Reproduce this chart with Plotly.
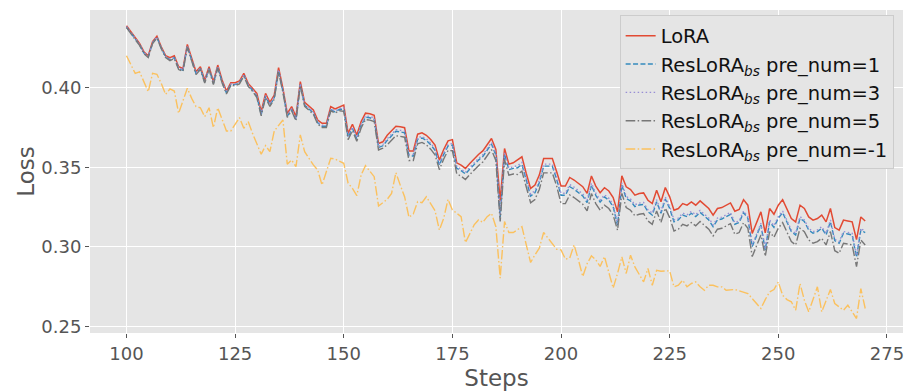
import plotly.graph_objects as go

steps = list(range(100, 271))

lora = [
0.4389,0.4351,0.4310,0.4278,0.4226,0.4201,0.4289,0.4324,0.4257,0.4201,
0.4188,0.4201,0.4132,0.4121,0.4272,0.4184,0.4100,0.4132,0.4048,0.4132,
0.4038,0.4142,0.4048,0.3979,0.4031,0.4031,0.4042,0.4090,0.4027,0.3996,
0.3964,0.3849,0.3964,0.3908,0.3954,0.4126,0.3996,0.3839,0.3881,0.3818,
0.4038,0.3908,0.3881,0.3860,0.3797,0.3776,0.3776,0.3881,0.3866,0.3881,
0.3891,0.3713,0.3770,0.3703,0.3787,0.3840,0.3836,0.3827,0.3649,0.3660,
0.3701,0.3729,0.3758,0.3754,0.3749,0.3603,0.3603,0.3708,0.3716,0.3701,
0.3674,0.3639,0.3545,0.3612,0.3666,0.3674,0.3528,0.3514,0.3493,0.3524,
0.3555,0.3580,0.3603,0.3645,0.3681,0.3612,0.3290,0.3618,0.3520,0.3528,
0.3545,0.3566,0.3461,0.3367,0.3388,0.3451,0.3555,0.3555,0.3555,0.3472,
0.3382,0.3382,0.3436,0.3420,0.3399,0.3378,0.3336,0.3445,0.3382,0.3340,
0.3372,0.3351,0.3310,0.3220,0.3446,0.3377,0.3360,0.3325,0.3335,0.3339,
0.3293,0.3272,0.3356,0.3283,0.3373,0.3314,0.3230,0.3241,0.3272,0.3262,
0.3283,0.3262,0.3289,0.3262,0.3241,0.3199,0.3241,0.3247,0.3262,0.3276,
0.3224,0.3235,0.3297,0.3262,0.3084,0.3147,0.3220,0.3088,0.3241,0.3205,
0.3262,0.3297,0.3241,0.3178,0.3157,0.3262,0.3241,0.3188,0.3168,0.3178,
0.3199,0.3157,0.3241,0.3121,0.3105,0.3168,0.3163,0.3157,0.3046,0.3188,
0.3163]

pre1 = [
0.4381,0.4343,0.4302,0.4270,0.4218,0.4193,0.4281,0.4316,0.4249,0.4193,
0.4176,0.4189,0.4120,0.4109,0.4260,0.4172,0.4088,0.4120,0.4036,0.4120,
0.4026,0.4130,0.4036,0.3967,0.4019,0.4019,0.4030,0.4078,0.4015,0.3984,
0.3946,0.3831,0.3946,0.3890,0.3936,0.4108,0.3978,0.3821,0.3863,0.3800,
0.4020,0.3890,0.3863,0.3842,0.3779,0.3758,0.3758,0.3863,0.3848,0.3863,
0.3866,0.3688,0.3745,0.3678,0.3762,0.3815,0.3811,0.3802,0.3624,0.3635,
0.3669,0.3697,0.3726,0.3722,0.3717,0.3571,0.3571,0.3676,0.3684,0.3669,
0.3642,0.3607,0.3513,0.3580,0.3634,0.3639,0.3493,0.3479,0.3458,0.3489,
0.3520,0.3545,0.3568,0.3610,0.3646,0.3577,0.3185,0.3583,0.3485,0.3493,
0.3497,0.3518,0.3413,0.3319,0.3340,0.3403,0.3507,0.3507,0.3507,0.3424,
0.3324,0.3324,0.3378,0.3362,0.3341,0.3320,0.3278,0.3387,0.3324,0.3282,
0.3314,0.3293,0.3252,0.3136,0.3388,0.3305,0.3288,0.3253,0.3263,0.3267,
0.3221,0.3200,0.3284,0.3211,0.3301,0.3242,0.3158,0.3169,0.3200,0.3190,
0.3211,0.3190,0.3217,0.3190,0.3169,0.3127,0.3169,0.3175,0.3190,0.3204,
0.3142,0.3153,0.3215,0.3180,0.3002,0.3065,0.3138,0.2979,0.3159,0.3123,
0.3180,0.3215,0.3159,0.3096,0.3075,0.3180,0.3159,0.3106,0.3086,0.3096,
0.3117,0.3075,0.3159,0.3039,0.3023,0.3086,0.3081,0.3075,0.2935,0.3106,
0.3089]

pre3 = [
0.4384,0.4346,0.4305,0.4273,0.4221,0.4196,0.4284,0.4319,0.4252,0.4196,
0.4180,0.4193,0.4124,0.4113,0.4264,0.4176,0.4092,0.4124,0.4040,0.4124,
0.4030,0.4134,0.4040,0.3971,0.4023,0.4023,0.4034,0.4082,0.4019,0.3988,
0.3952,0.3837,0.3952,0.3896,0.3942,0.4114,0.3984,0.3827,0.3869,0.3806,
0.4026,0.3896,0.3869,0.3848,0.3785,0.3764,0.3764,0.3869,0.3854,0.3869,
0.3874,0.3696,0.3753,0.3686,0.3770,0.3823,0.3819,0.3810,0.3632,0.3643,
0.3679,0.3707,0.3736,0.3732,0.3727,0.3581,0.3581,0.3686,0.3694,0.3679,
0.3652,0.3617,0.3523,0.3590,0.3644,0.3649,0.3503,0.3489,0.3468,0.3499,
0.3530,0.3555,0.3578,0.3620,0.3656,0.3587,0.3195,0.3593,0.3495,0.3503,
0.3510,0.3531,0.3426,0.3332,0.3353,0.3416,0.3520,0.3520,0.3520,0.3437,
0.3337,0.3337,0.3391,0.3375,0.3354,0.3333,0.3291,0.3400,0.3337,0.3295,
0.3327,0.3306,0.3265,0.3145,0.3401,0.3317,0.3300,0.3265,0.3275,0.3279,
0.3233,0.3212,0.3296,0.3223,0.3313,0.3254,0.3170,0.3181,0.3212,0.3202,
0.3223,0.3202,0.3229,0.3202,0.3181,0.3139,0.3181,0.3187,0.3202,0.3216,
0.3152,0.3163,0.3225,0.3190,0.3012,0.3075,0.3148,0.2988,0.3169,0.3133,
0.3190,0.3225,0.3169,0.3106,0.3085,0.3190,0.3169,0.3116,0.3096,0.3106,
0.3127,0.3085,0.3169,0.3049,0.3033,0.3096,0.3091,0.3085,0.2946,0.3116,
0.3097]

pre5 = [
0.4377,0.4339,0.4298,0.4266,0.4214,0.4189,0.4277,0.4312,0.4245,0.4189,
0.4170,0.4183,0.4114,0.4103,0.4254,0.4166,0.4082,0.4114,0.4030,0.4114,
0.4020,0.4124,0.4030,0.3961,0.4013,0.4013,0.4024,0.4072,0.4009,0.3978,
0.3938,0.3823,0.3938,0.3882,0.3928,0.4100,0.3970,0.3813,0.3855,0.3792,
0.4012,0.3882,0.3855,0.3834,0.3771,0.3750,0.3750,0.3855,0.3840,0.3855,
0.3851,0.3673,0.3730,0.3663,0.3747,0.3800,0.3796,0.3787,0.3609,0.3620,
0.3641,0.3669,0.3698,0.3694,0.3689,0.3543,0.3543,0.3648,0.3656,0.3641,
0.3614,0.3579,0.3485,0.3552,0.3606,0.3604,0.3458,0.3444,0.3423,0.3454,
0.3485,0.3510,0.3533,0.3575,0.3611,0.3542,0.3160,0.3548,0.3450,0.3458,
0.3455,0.3476,0.3371,0.3277,0.3298,0.3361,0.3465,0.3465,0.3465,0.3382,
0.3272,0.3272,0.3326,0.3310,0.3289,0.3268,0.3226,0.3335,0.3272,0.3230,
0.3262,0.3241,0.3200,0.3105,0.3336,0.3247,0.3230,0.3195,0.3205,0.3209,
0.3163,0.3142,0.3226,0.3153,0.3243,0.3184,0.3100,0.3111,0.3142,0.3132,
0.3153,0.3132,0.3159,0.3132,0.3111,0.3069,0.3111,0.3117,0.3132,0.3146,
0.3079,0.3090,0.3152,0.3117,0.2939,0.3002,0.3075,0.2941,0.3096,0.3060,
0.3117,0.3152,0.3096,0.3033,0.3012,0.3117,0.3096,0.3043,0.3023,0.3033,
0.3054,0.3012,0.3096,0.2976,0.2960,0.3023,0.3018,0.3012,0.2876,0.3043,
0.3012]

pre_neg1 = [
0.4201,0.4142,0.4090,0.4100,0.4038,0.3975,0.4090,0.4084,0.4027,0.3958,
0.3992,0.3979,0.3839,0.3923,0.3996,0.3933,0.3881,0.3874,0.3818,0.3874,
0.3749,0.3874,0.3797,0.3728,0.3728,0.3766,0.3812,0.3745,0.3787,0.3713,
0.3651,0.3582,0.3636,0.3598,0.3728,0.3766,0.3797,0.3519,0.3546,0.3504,
0.3703,0.3598,0.3556,0.3515,0.3483,0.3389,0.3473,0.3556,0.3552,0.3540,
0.3525,0.3400,0.3368,0.3322,0.3452,0.3510,0.3472,0.3441,0.3257,0.3278,
0.3299,0.3336,0.3466,0.3388,0.3315,0.3186,0.3207,0.3284,0.3278,0.3315,
0.3274,0.3228,0.3106,0.3180,0.3299,0.3232,0.3211,0.3190,0.3027,0.3086,
0.3138,0.3169,0.3154,0.3190,0.3211,0.3127,0.2804,0.3159,0.3090,0.3090,
0.3111,0.3127,0.3013,0.2902,0.2950,0.2992,0.3090,0.3054,0.3019,0.2985,
0.2981,0.2923,0.2929,0.3013,0.2919,0.2814,0.2894,0.2944,0.2919,0.2877,
0.2939,0.2835,0.2741,0.2833,0.2937,0.2833,0.2948,0.2874,0.2822,0.2780,
0.2864,0.2759,0.2853,0.2847,0.2849,0.2849,0.2749,0.2759,0.2791,0.2749,
0.2770,0.2780,0.2749,0.2728,0.2759,0.2759,0.2749,0.2749,0.2728,0.2732,
0.2732,0.2724,0.2717,0.2707,0.2675,0.2644,0.2613,0.2669,0.2717,0.2732,
0.2780,0.2696,0.2669,0.2655,0.2602,0.2770,0.2665,0.2592,0.2665,0.2749,
0.2592,0.2665,0.2732,0.2644,0.2623,0.2602,0.2634,0.2592,0.2550,0.2738,
0.2613]

x_ticks = [100, 125, 150, 175, 200, 225, 250, 275]
y_ticks = [0.25, 0.30, 0.35, 0.40]
y_tick_labels = ["0.25", "0.30", "0.35", "0.40"]

names = [
    "LoRA",
    "ResLoRA<sub><i>bs</i></sub> pre_num=1",
    "ResLoRA<sub><i>bs</i></sub> pre_num=3",
    "ResLoRA<sub><i>bs</i></sub> pre_num=5",
    "ResLoRA<sub><i>bs</i></sub> pre_num=-1",
]
series = [lora, pre1, pre3, pre5, pre_neg1]
colors = ["#E24A33", "#348ABD", "#988ED5", "#777777", "#FBC15E"]
dashes = ["solid", "5px,2.4px", "1.5px,2.5px", "9.6px,2.4px,1.5px,2.4px", "9.6px,2.4px,1.5px,2.4px"]
widths = [1.5, 1.4, 1.4, 1.4, 1.4]

fig = go.Figure()
for nm, ys, c, d, w in zip(names, series, colors, dashes, widths):
    fig.add_trace(go.Scatter(
        x=steps, y=ys, mode="lines", name=nm,
        line=dict(color=c, width=w, dash=d),
    ))

font_family = "DejaVu Sans"
# page body adds an 8px offset, so the figure is 8px smaller than the window
fig.update_layout(
    width=913, height=383,
    margin=dict(l=82, r=18, t=2, b=58, autoexpand=False),
    paper_bgcolor="white",
    plot_bgcolor="#E5E5E5",
    font=dict(family=font_family, color="#555555", size=18),
    showlegend=True,
    legend=dict(
        x=0.9885, y=0.983, xanchor="right", yanchor="top",
        bgcolor="#E5E5E5", bordercolor="#CCCCCC", borderwidth=1,
        font=dict(family=font_family, size=19.5, color="#111111"),
        tracegroupgap=0,
    ),
)
fig.update_xaxes(
    range=[91.6, 278.7], automargin=False,
    tickmode="array", tickvals=x_ticks,
    showgrid=True, gridcolor="white", gridwidth=1.3,
    zeroline=False, showline=False,
    ticks="outside", ticklen=4, tickcolor="#555555", tickwidth=1,
    tickfont=dict(size=18, color="#555555"),
    title=dict(text="Steps", font=dict(size=23, color="#555555"), standoff=7),
)
fig.update_yaxes(
    range=[0.2459, 0.4488], automargin=False,
    tickmode="array", tickvals=y_ticks, ticktext=y_tick_labels,
    showgrid=True, gridcolor="white", gridwidth=1.3,
    zeroline=False, showline=False,
    ticks="outside", ticklen=4, tickcolor="#555555", tickwidth=1,
    tickfont=dict(size=18, color="#555555"),
    title=dict(text="Loss", font=dict(size=23, color="#555555"), standoff=0),
)

fig.write_html("out.html")
